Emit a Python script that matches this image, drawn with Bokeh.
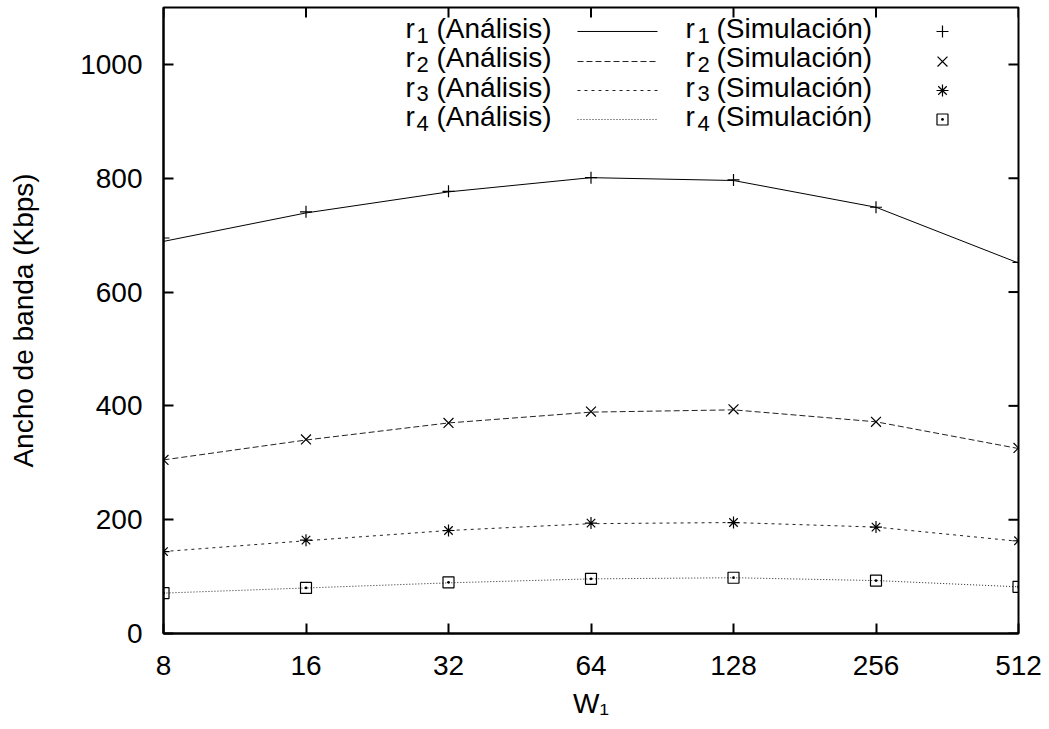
from bokeh.plotting import figure
from bokeh.models import Range1d, LinearScale, FixedTicker, Label
from bokeh.embed import file_html
from bokeh.resources import INLINE

# ---------------- data ----------------
w = [8, 16, 32, 64, 128, 256, 512]
w_labels = ["8", "16", "32", "64", "128", "256", "512"]
y_ticks = [0, 200, 400, 600, 800, 1000]

r1_ana = [689, 739, 776, 801, 796, 749, 651]
r1_sim = [695, 741, 777, 801, 797, 749, 652]
r2_ana = [305, 340, 370, 389, 393, 372, 325]
r2_sim = [305, 341, 370, 390, 394, 372, 326]
r3_ana = [144, 163, 181, 193, 195, 187, 162]
r3_sim = [144, 164, 181, 194, 195, 187, 163]
r4_ana = [71, 80, 89, 96, 98, 93, 82]
r4_sim = [71, 80, 90, 96, 98, 93, 82]

series_names = ["1", "2", "3", "4"]
ana_label = "(Análisis)"
sim_label = "(Simulación)"
x_title = "W\u2081"
y_title = "Ancho de banda (Kbps)"

FONT = "Liberation Sans"
W, H = 1049, 729
FRAME_W, FRAME_H = 855, 626

p = figure(width=W, height=H, x_axis_type="log",
           x_range=Range1d(8, 512), y_range=Range1d(0, 1100),
           output_backend="svg", toolbar_location=None,
           min_border_left=163, min_border_right=W - 163 - FRAME_W,
           min_border_top=7, min_border_bottom=H - 7 - FRAME_H)
p.grid.visible = False
p.outline_line_color = "black"
p.outline_line_width = 2
p.background_fill_color = "white"
p.border_fill_color = "white"

# fractional frame ranges for the legend and mirror ticks
p.extra_x_ranges = {"fx": Range1d(0, 1)}
p.extra_y_ranges = {"fy": Range1d(0, 1)}
p.extra_x_scales = {"fx": LinearScale()}
p.extra_y_scales = {"fy": LinearScale()}


def style_axis(ax):
    ax.axis_line_color = "black"
    ax.axis_line_width = 2
    ax.major_tick_in = 10
    ax.major_tick_out = 0
    ax.major_tick_line_width = 2
    ax.major_tick_line_color = "black"
    ax.minor_tick_line_color = None
    ax.major_label_text_font = FONT
    ax.major_label_text_color = "black"
    ax.major_label_text_font_size = "28px"
    ax.axis_label_text_font = FONT
    ax.axis_label_text_font_size = "28px"
    ax.axis_label_text_font_style = "normal"
    ax.axis_label_text_color = "black"


xb = p.xaxis[0]
xb.ticker = FixedTicker(ticks=w)
xb.major_label_overrides = {v: s for v, s in zip(w, w_labels)}
style_axis(xb)
xb.major_label_standoff = 22
xb.axis_label = x_title
xb.axis_label_standoff = 10

yl = p.yaxis[0]
yl.ticker = FixedTicker(ticks=y_ticks)
style_axis(yl)
yl.major_label_standoff = 21
yl.axis_label = y_title
yl.axis_label_standoff = 38

# mirror ticks on top and right edges
tick_len_y = 10 / FRAME_H
tick_len_x = 10 / FRAME_W
p.segment(x0=w, x1=w, y0=[1.0] * len(w), y1=[1.0 - tick_len_y] * len(w),
          y_range_name="fy", line_color="black", line_width=2)
p.segment(x0=[1.0] * len(y_ticks), x1=[1.0 - tick_len_x] * len(y_ticks),
          y0=y_ticks, y1=y_ticks,
          x_range_name="fx", line_color="black", line_width=2)

# ---------------- data marks ----------------
ana = [r1_ana, r2_ana, r3_ana, r4_ana]
sim = [r1_sim, r2_sim, r3_sim, r4_sim]
dashes = ["solid", "6 3", "3 4", "1 2"]
markers = ["cross", "x", "asterisk", "square_dot"]
msizes = [12, 14, 12, 11]
line_colors = ["black", "#222222", "#222222", "#222222"]

for a, d, c in zip(ana, dashes, line_colors):
    p.line(w, a, line_color=c, line_width=1, line_dash=d)
for s, m, ms in zip(sim, markers, msizes):
    p.scatter(w, s, marker=m, size=ms, line_color="black", line_width=1.2,
              fill_color=None)

# ---------------- legend (frame fractions) ----------------
row_line_y = [0.9617, 0.9137, 0.8674, 0.8211]
row_base_y = [0.9665, 0.9197, 0.8729, 0.8259]
sub_drop = 0.0105
samp_x0, samp_x1 = 0.4842, 0.5778
mark_x = 0.9111
c1_r, c1_s, c1_t = 0.2830, 0.2959, 0.3193
c2_r, c2_s, c2_t = 0.6105, 0.6246, 0.6468

for i in range(4):
    p.line([samp_x0, samp_x1], [row_line_y[i], row_line_y[i]],
           x_range_name="fx", y_range_name="fy",
           line_color=line_colors[i], line_width=1, line_dash=dashes[i])
    p.scatter([mark_x], [row_line_y[i]], marker=markers[i], size=msizes[i],
              line_color="black", line_width=1.2, fill_color=None,
              x_range_name="fx", y_range_name="fy")
    for (xr, xs, xtx, txt) in [(c1_r, c1_s, c1_t, ana_label),
                               (c2_r, c2_s, c2_t, sim_label)]:
        p.add_layout(Label(x=xr, y=row_base_y[i], text="r",
                           x_range_name="fx", y_range_name="fy",
                           text_font=FONT, text_font_size="28px",
                           text_color="black",
                           text_baseline="alphabetic", text_align="left"))
        p.add_layout(Label(x=xs, y=row_base_y[i] - sub_drop, text=series_names[i],
                           x_range_name="fx", y_range_name="fy",
                           text_font=FONT, text_font_size="22px",
                           text_color="black",
                           text_baseline="alphabetic", text_align="left"))
        p.add_layout(Label(x=xtx, y=row_base_y[i], text=txt,
                           x_range_name="fx", y_range_name="fy",
                           text_font=FONT, text_font_size="28px",
                           text_color="black",
                           text_baseline="alphabetic", text_align="left"))

open("out.html", "w").write(file_html(p, INLINE))
